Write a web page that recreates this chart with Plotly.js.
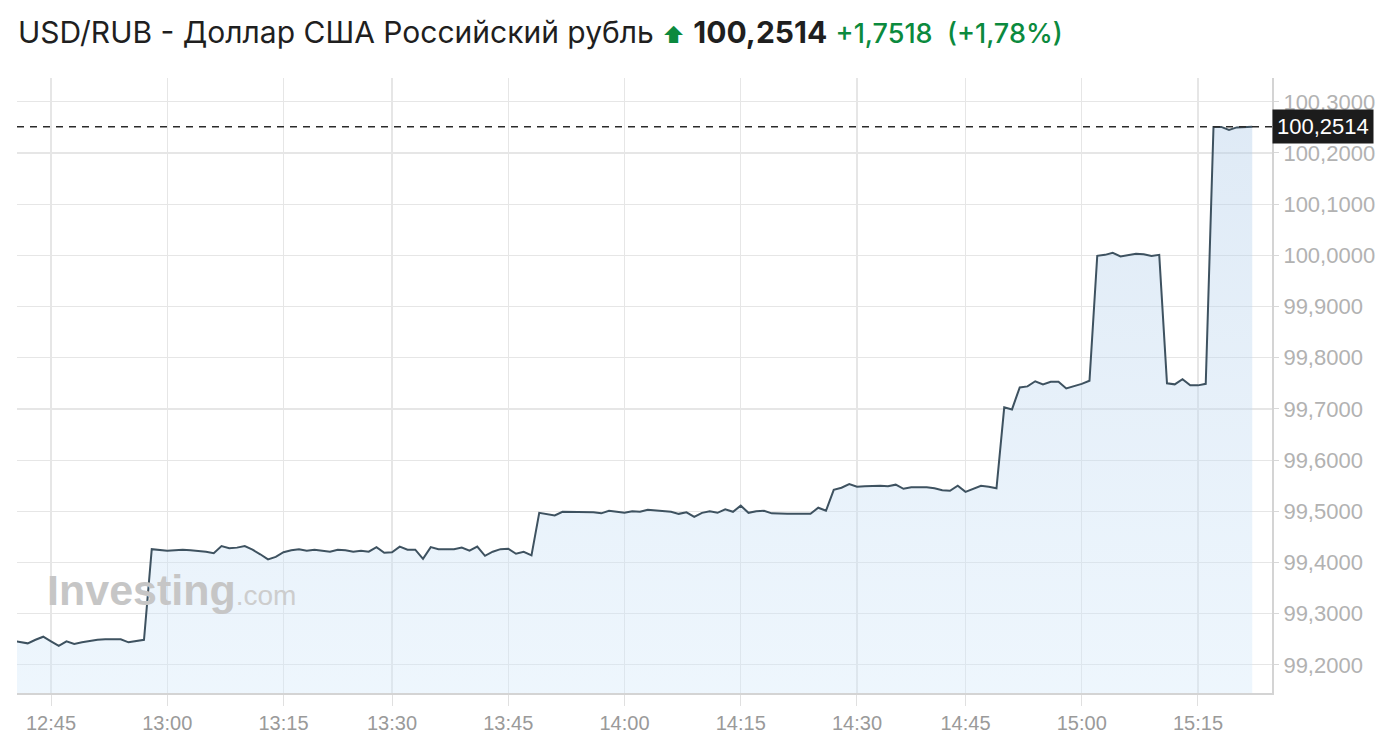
<!DOCTYPE html>
<html>
<head>
<meta charset="utf-8">
<script src="https://cdn.plot.ly/plotly-3.0.1.min.js"></script>
<style>
html,body{margin:0;padding:0;background:#fff;}
#chart{width:1400px;height:739px;}
</style>
</head>
<body>
<div id="chart"></div>
<script>
const times = [
"12:40","12:41","12:42","12:43","12:44","12:45","12:46","12:47","12:48","12:49",
"12:50","12:51","12:52","12:53","12:54","12:55","12:56","12:57","12:58","12:59",
"13:00","13:01","13:02","13:03","13:04","13:05","13:06","13:07","13:08","13:09",
"13:10","13:11","13:12","13:13","13:14","13:15","13:16","13:17","13:18","13:19",
"13:20","13:21","13:23","13:24","13:25","13:26","13:27","13:28","13:29",
"13:30","13:31","13:32","13:33","13:34","13:35","13:36","13:37","13:38","13:39",
"13:40","13:41","13:42","13:43","13:44","13:45","13:46","13:47","13:48","13:49",
"13:50","13:51","13:52","13:53","13:54","13:55","13:56","13:57","13:58","13:59",
"14:00","14:01","14:02","14:03","14:04","14:05","14:06","14:07","14:08","14:09",
"14:10","14:11","14:12","14:13","14:14","14:15","14:16","14:17","14:18","14:19",
"14:20","14:21","14:22","14:23","14:24","14:25","14:26","14:27","14:28","14:29",
"14:30","14:31","14:32","14:33","14:34","14:35","14:36","14:37","14:39","14:40",
"14:41","14:42","14:43","14:44","14:45","14:46","14:47","14:48","14:49","14:50",
"14:51","14:52","14:53","14:54","14:55","14:56","14:57","14:58","14:59","15:00",
"15:01","15:02","15:03","15:04","15:05","15:06","15:07","15:08","15:09","15:10",
"15:11","15:12","15:13","15:14","15:15","15:16","15:17","15:18","15:19","15:20",
"15:21","15:22"
];
const prices = [
99.247,99.245,99.242,99.249,99.255,99.246,99.237,99.246,99.241,99.244,
99.247,99.249,99.250,99.250,99.250,99.244,99.247,99.249,99.426,99.424,
99.423,99.424,99.425,99.424,99.423,99.421,99.418,99.432,99.428,99.429,
99.432,99.425,99.416,99.406,99.411,99.420,99.424,99.426,99.423,99.425,
99.423,99.421,99.425,99.424,99.421,99.423,99.421,99.430,99.419,
99.420,99.431,99.425,99.425,99.407,99.430,99.426,99.426,99.426,99.429,
99.423,99.431,99.413,99.421,99.426,99.427,99.417,99.421,99.414,99.497,
99.495,99.492,99.499,99.499,99.498,99.499,99.498,99.496,99.501,99.499,
99.497,99.500,99.499,99.503,99.502,99.501,99.499,99.495,99.498,99.489,
99.497,99.500,99.497,99.504,99.499,99.511,99.497,99.500,99.501,99.496,
99.495,99.495,99.495,99.495,99.495,99.507,99.501,99.542,99.546,99.553,
99.548,99.549,99.550,99.550,99.549,99.552,99.544,99.547,99.547,99.547,
99.545,99.541,99.540,99.550,99.538,99.544,99.550,99.548,99.545,99.703,
99.699,99.742,99.744,99.754,99.748,99.753,99.753,99.740,99.744,99.749,
99.755,99.999,100.001,100.005,99.998,100.001,100.003,100.002,99.999,100.001,
99.750,99.748,99.758,99.746,99.746,99.749,100.251,100.251,100.245,100.250,
100.250,100.2514
];
const xTickLabels = ["12:45","13:00","13:15","13:30","13:45","14:00","14:15","14:30","14:45","15:00","15:15"];
const yTickValues = [99.2,99.3,99.4,99.5,99.6,99.7,99.8,99.9,100.0,100.1,100.2,100.3];
const yTickLabels = ["99,2000","99,3000","99,4000","99,5000","99,6000","99,7000","99,8000","99,9000","100,0000","100,1000","100,2000","100,3000"];
const lastPrice = 100.2514;
const lastPriceText = "100,2514";
const changeText = "+1,7518";
const changePctText = "(+1,78%)";
const pairTitle = "USD/RUB - Доллар США Российский рубль";

const trace = {
  x: times,
  y: prices,
  type: 'scatter',
  mode: 'lines',
  line: {color: '#3e5260', width: 2},
  fill: 'tozeroy',
  fillgradient: {
    type: 'vertical',
    start: 99.14,
    stop: 100.26,
    colorscale: [[0, 'rgba(210,232,250,0.38)'], [1, 'rgba(175,203,232,0.4)']]
  },
  hoverinfo: 'skip'
};

const layout = {
  width: 1400,
  height: 739,
  paper_bgcolor: '#ffffff',
  plot_bgcolor: '#ffffff',
  margin: {l: 17, r: 128, t: 78, b: 46},
  showlegend: false,
  title: {
    text: pairTitle + ' <span style="color:#0b8a3e;font-size:22px">⬆</span> <b>' + lastPriceText + '</b> <span style="color:#0b8a3e;font-size:27px;font-weight:500">' + changeText + '&nbsp; ' + changePctText + '</span>',
    font: {family: 'Inter, Roboto, sans-serif', size: 30, color: '#1f1f1f'},
    x: 18/1400, xanchor: 'left', xref: 'container',
    y: 1 - 32/739, yanchor: 'middle', yref: 'container'
  },
  xaxis: {
    type: 'category',
    range: [0.613, 162.55],
    tickmode: 'array',
    tickvals: xTickLabels,
    ticktext: xTickLabels,
    showgrid: true,
    gridcolor: '#e6e6e6',
    gridwidth: 1.2,
    showline: true,
    linecolor: '#d4d4d4',
    linewidth: 2,
    ticks: 'outside',
    ticklen: 11,
    tickcolor: '#e0e0e0',
    tickfont: {family: 'Liberation Sans, Arial, sans-serif', size: 20, color: '#9a9a9a'},
    zeroline: false,
    fixedrange: true
  },
  yaxis: {
    side: 'right',
    range: [99.145, 100.3465],
    tickmode: 'array',
    tickvals: yTickValues,
    ticktext: yTickLabels,
    showgrid: true,
    gridcolor: '#e6e6e6',
    gridwidth: 1.2,
    showline: true,
    linecolor: '#d4d4d4',
    linewidth: 2,
    ticks: 'outside',
    ticklen: 5,
    tickcolor: '#d8d8d8',
    tickfont: {family: 'Liberation Sans, Arial, sans-serif', size: 22, color: '#b2b2b2'},
    zeroline: false,
    fixedrange: true
  },
  shapes: [{
    type: 'line', xref: 'paper', yref: 'y',
    x0: 0, x1: 1, y0: lastPrice, y1: lastPrice,
    line: {color: '#2b2b2b', width: 1.5, dash: '7px,6px'}
  }],
  annotations: [
    {
      xref: 'paper', yref: 'y', x: 1, y: lastPrice,
      xanchor: 'left', yanchor: 'middle',
      text: lastPriceText,
      showarrow: false,
      bgcolor: '#1c1c1c',
      borderpad: 4,
      font: {family: 'Liberation Sans, Arial, sans-serif', size: 22, color: '#ffffff'}
    },
    {
      xref: 'paper', yref: 'paper', x: 28/1255, y: (693-590)/615,
      xanchor: 'left', yanchor: 'middle',
      text: '<b>Investing</b><span style="font-size:28px;color:#cdcdcd">.com</span>',
      showarrow: false,
      font: {family: 'Liberation Sans, Arial, sans-serif', size: 43, color: '#c6c6c6'}
    }
  ]
};

Plotly.newPlot('chart', [trace], layout, {displayModeBar: false, staticPlot: true});
</script>
</body>
</html>
